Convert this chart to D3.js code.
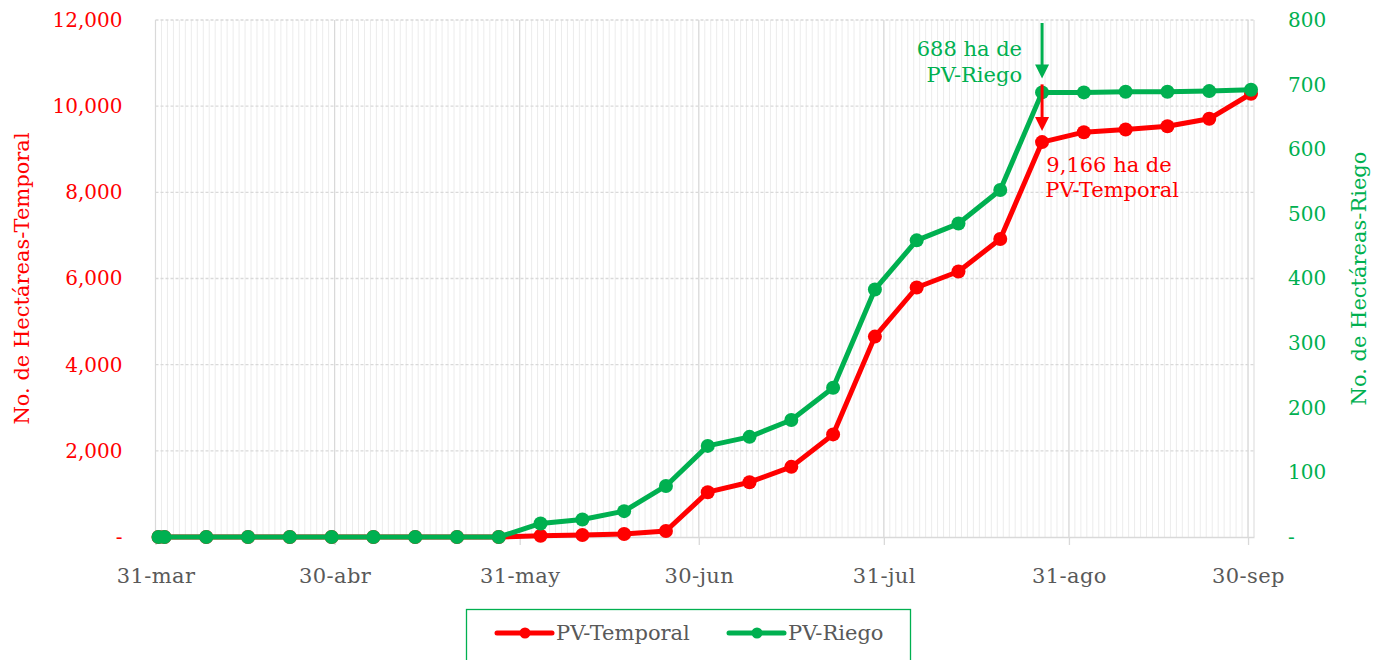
<!DOCTYPE html>
<html>
<head>
<meta charset="utf-8">
<script src="https://cdn.jsdelivr.net/npm/d3@7"></script>
<style>
  body { margin: 0; background: #fff; }
  text { font-family: "DejaVu Serif", serif; }
</style>
</head>
<body>
<svg id="chart" width="1375" height="660"></svg>
<script>
// datos
const fechas = ["2021-03-31","2021-04-01","2021-04-08","2021-04-15","2021-04-22","2021-04-29",
  "2021-05-06","2021-05-13","2021-05-20","2021-05-27","2021-06-03","2021-06-10","2021-06-17",
  "2021-06-24","2021-07-01","2021-07-08","2021-07-15","2021-07-22","2021-07-29","2021-08-05",
  "2021-08-12","2021-08-19","2021-08-26","2021-09-02","2021-09-09","2021-09-16","2021-09-23","2021-09-30"];
const temporal = [0,0,0,0,0,0,0,0,0,0,30,45,70,140,1040,1272,1628,2381,4651,5791,6163,6916,9166,9396,9458,9535,9707,10288];
const riego = [0,0,0,0,0,0,0,0,0,0,21,27,40,79,141,155,181,231,383,459,485,537,688,688,689,689,690,692];
const ticksFecha = ["2021-03-31","2021-04-30","2021-05-31","2021-06-30","2021-07-31","2021-08-31","2021-09-30"];
const etiquetasX = ["31-mar","30-abr","31-may","30-jun","31-jul","31-ago","30-sep"];
const ticksIzq = [0,2000,4000,6000,8000,10000,12000];
const ticksDer = [0,100,200,300,400,500,600,700,800];

const rojo = "#ff0000", verde = "#00b050", gris = "#595959";
const margin = {top: 20, right: 121, bottom: 123, left: 155.5};
const width = 1375, height = 660;
const fs = 21, fsNum = 20;

const svg = d3.select("#chart");
const parse = d3.utcParse("%Y-%m-%d");

// escalas
const x = d3.scaleUtc()
  .domain([parse("2021-03-31"), parse("2021-10-01")])
  .range([margin.left, width - margin.right]);
const yL = d3.scaleLinear().domain([0, 12000]).range([height - margin.bottom, margin.top]);
const yR = d3.scaleLinear().domain([0, 800]).range([height - margin.bottom, margin.top]);

// cada punto va al centro de su día
const xd = d => x(d3.utcHour.offset(parse(d), 12));

// rejilla diaria
svg.append("g").selectAll("line")
  .data(d3.utcDay.range(x.domain()[0], x.domain()[1]).slice(1))
  .join("line")
  .attr("x1", d => x(d)).attr("x2", d => x(d))
  .attr("y1", margin.top).attr("y2", yL(0))
  .attr("stroke", "#ececec").attr("stroke-width", 1);

// rejilla mensual
svg.append("g").selectAll("line")
  .data(ticksFecha.map(parse))
  .join("line")
  .attr("x1", d => x(d)).attr("x2", d => x(d))
  .attr("y1", margin.top).attr("y2", yL(0))
  .attr("stroke", "#d9d9d9").attr("stroke-width", 1.2);

svg.append("line")
  .attr("x1", x.range()[1]).attr("x2", x.range()[1])
  .attr("y1", margin.top).attr("y2", yL(0))
  .attr("stroke", "#d9d9d9");

// rejilla horizontal
svg.append("g").selectAll("line")
  .data(ticksIzq.slice(1))
  .join("line")
  .attr("x1", margin.left).attr("x2", x.range()[1])
  .attr("y1", d => yL(d)).attr("y2", d => yL(d))
  .attr("stroke", "#d9d9d9").attr("stroke-width", 1.3)
  .attr("stroke-dasharray", "3,2");

// eje x
const xAxis = g => g
  .attr("transform", "translate(0," + yL(0) + ")")
  .call(d3.axisBottom(x).tickValues(ticksFecha.map(parse))
    .tickFormat((d, i) => etiquetasX[i]).tickSize(8).tickPadding(23).tickSizeOuter(0));
svg.append("g").call(xAxis)
  .call(g => g.selectAll("path, line").attr("stroke", "#d9d9d9").attr("stroke-width", 1.3))
  .call(g => g.selectAll("text").attr("fill", gris).attr("font-size", fs).attr("letter-spacing", 0.4));

// ejes y
const fmtIzq = d => d === 0 ? "-" : d3.format(",")(d);
svg.append("g")
  .attr("transform", "translate(" + margin.left + ",0)")
  .call(d3.axisLeft(yL).tickValues(ticksIzq).tickFormat(fmtIzq).tickSize(0).tickPadding(33))
  .call(g => g.select(".domain").remove())
  .call(g => g.selectAll("text").attr("fill", rojo).attr("font-size", fsNum));

svg.append("g")
  .attr("transform", "translate(" + x.range()[1] + ",0)")
  .call(d3.axisRight(yR).tickValues(ticksDer).tickFormat(d => d === 0 ? "-" : d).tickSize(0).tickPadding(34))
  .call(g => g.select(".domain").remove())
  .call(g => g.selectAll("text").attr("fill", verde).attr("font-size", fsNum));

// títulos de ejes
svg.append("text")
  .attr("transform", "translate(29," + yL(6000) + ") rotate(-90)")
  .attr("text-anchor", "middle").attr("fill", rojo).attr("font-size", fs)
  .text("No. de Hectáreas-Temporal");
svg.append("text")
  .attr("transform", "translate(1366," + yL(6000) + ") rotate(-90)")
  .attr("text-anchor", "middle").attr("fill", verde).attr("font-size", fs)
  .text("No. de Hectáreas-Riego");

// series
const series = [
  {nombre: "PV-Temporal", valores: temporal, y: yL, color: rojo},
  {nombre: "PV-Riego", valores: riego, y: yR, color: verde}
];
series.forEach(s => {
  const line = d3.line().x((d, i) => xd(fechas[i])).y(d => s.y(d));
  svg.append("path").datum(s.valores)
    .attr("d", line).attr("fill", "none")
    .attr("stroke", s.color).attr("stroke-width", 5).attr("stroke-linejoin", "round");
  svg.append("g").selectAll("circle")
    .data(s.valores).join("circle")
    .attr("cx", (d, i) => xd(fechas[i])).attr("cy", d => s.y(d))
    .attr("r", 7).attr("fill", s.color);
});

// anotaciones
const iAnot = fechas.indexOf("2021-08-26");
const xa = xd(fechas[iAnot]);
function flecha(x0, y0, y1, color) {
  svg.append("line").attr("x1", x0).attr("x2", x0).attr("y1", y0).attr("y2", y1 - 12)
    .attr("stroke", color).attr("stroke-width", 3);
  svg.append("path")
    .attr("d", `M${x0 - 7},${y1 - 14}L${x0 + 7},${y1 - 14}L${x0},${y1}Z`)
    .attr("fill", color);
}
flecha(xa, yR(800) + 3, yR(riego[iAnot]) - 14, verde);
flecha(xa, yR(riego[iAnot]) - 8, yL(temporal[iAnot]) - 11, rojo);

const notaV = svg.append("text").attr("fill", verde).attr("font-size", fs).attr("text-anchor", "end");
notaV.append("tspan").attr("x", xa - 20).attr("y", 56).text(riego[iAnot] + " ha de");
notaV.append("tspan").attr("x", xa - 20).attr("y", 82).text("PV-Riego");
const notaR = svg.append("text").attr("fill", rojo).attr("font-size", fs).attr("text-anchor", "middle");
notaR.append("tspan").attr("x", xa + 67).attr("y", 172).text(d3.format(",")(temporal[iAnot]) + " ha de");
notaR.append("tspan").attr("x", xa + 70).attr("y", 197).text("PV-Temporal");

// leyenda
const ley = svg.append("g");
ley.append("rect").attr("x", 466.5).attr("y", 609.5).attr("width", 444).attr("height", 60)
  .attr("fill", "#fff").attr("stroke", verde).attr("stroke-width", 1.3);
series.forEach((s, i) => {
  const x0 = 497 + i * 232;
  ley.append("line").attr("x1", x0).attr("x2", x0 + 55).attr("y1", 633).attr("y2", 633)
    .attr("stroke", s.color).attr("stroke-width", 5).attr("stroke-linecap", "round");
  ley.append("circle").attr("cx", x0 + 28).attr("cy", 633).attr("r", 5.5).attr("fill", s.color);
  ley.append("text").attr("x", x0 + 59).attr("y", 640).attr("fill", gris).attr("font-size", fs).text(s.nombre);
});
</script>
</body>
</html>
